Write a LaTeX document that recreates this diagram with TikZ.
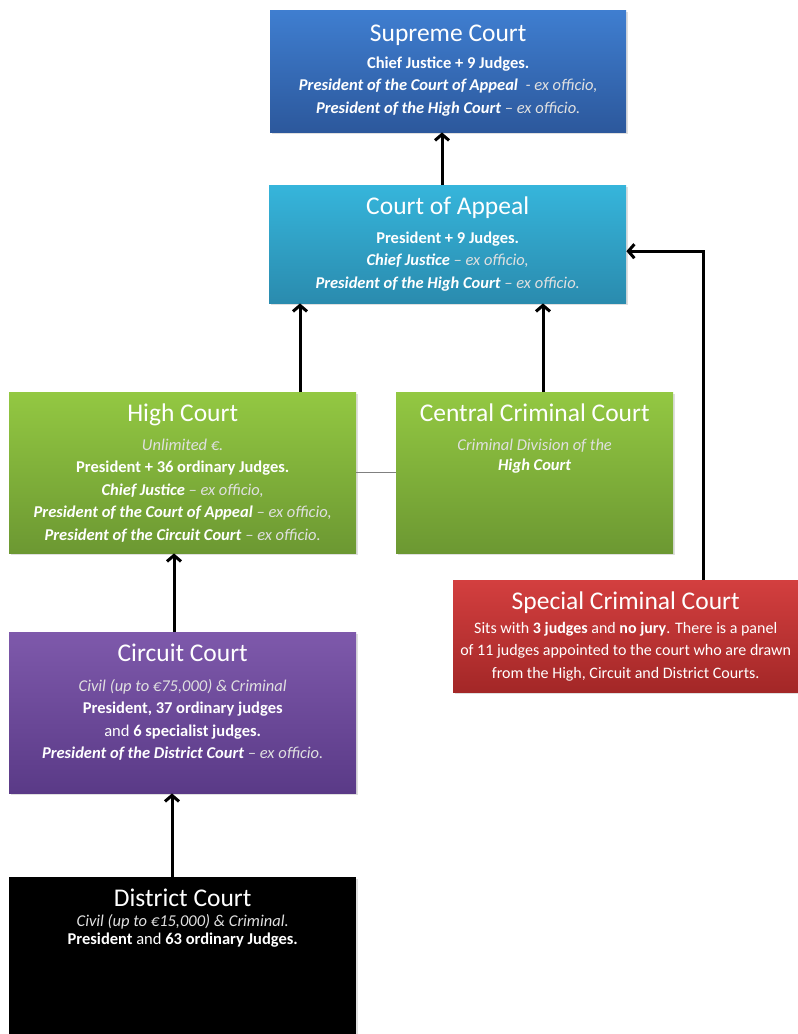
\documentclass[tikz,border=0pt]{standalone}
\usepackage{fontspec}
\setmainfont{Carlito}
\usetikzlibrary{arrows.meta,shadows}

\definecolor{supremetop}{HTML}{3F7ED0}
\definecolor{supremebot}{HTML}{2C589C}
\definecolor{appealtop}{HTML}{36B5DB}
\definecolor{appealbot}{HTML}{2A8BAE}
\definecolor{hightop}{HTML}{93C842}
\definecolor{highbot}{HTML}{6C9832}
\definecolor{specialtop}{HTML}{D33F3F}
\definecolor{specialbot}{HTML}{A32727}
\definecolor{circuittop}{HTML}{7E59AB}
\definecolor{circuitbot}{HTML}{5A3A87}

% text inside a court box
\newcommand{\bodyfont}{\fontsize{16.5}{22.5}\selectfont}
\newcommand{\boxtext}[3]{\parbox[t][#2][t]{#1}{\centering\bodyfont\vspace*{12pt}#3}}
\newcommand{\courtname}[2]{{\fontsize{25.5}{25.5}\selectfont #1}\\[#2]}
\newcommand{\exo}[1]{{\color{white!88!black}\itshape #1}}
\newcommand{\bi}[1]{\textbf{\textit{#1}}}

\begin{document}
\begin{tikzpicture}[x=1pt,y=-1pt,
  court/.style={anchor=north west, inner sep=0pt, text=white,
    drop shadow={opacity=0.25, shadow xshift=1.5pt, shadow yshift=-1.5pt}},
  arr/.style={line width=3pt, -{Straight Barb[length=6pt,width=14pt]}}]
  \useasboundingbox (0,0) rectangle (798,1034);

  \node[court, top color=supremetop, bottom color=supremebot] (supreme) at (270,10)
    {\boxtext{356pt}{122pt}{\vspace*{3pt}\courtname{Supreme Court}{4pt}
      \textbf{Chief Justice + 9 Judges.}\\
      \bi{President of the Court of Appeal} \exo{ - ex officio,}\\
      \bi{President of the High Court} \exo{-- ex officio.}}};

  \node[court, top color=appealtop, bottom color=appealbot] (appeal) at (269,185)
    {\boxtext{357pt}{118pt}{\courtname{Court of Appeal}{6pt}
      \textbf{President + 9 Judges.}\\
      \bi{Chief Justice} \exo{-- ex officio,}\\
      \bi{President of the High Court} \exo{-- ex officio.}}};

  \node[court, top color=hightop, bottom color=highbot] (high) at (9,392)
    {\boxtext{347pt}{161pt}{\courtname{High Court}{6pt}
      \exo{Unlimited €.}\\
      \textbf{President + 36 ordinary Judges.}\\
      \bi{Chief Justice} \exo{-- ex officio,}\\
      \bi{President of the Court of Appeal} \exo{-- ex officio,}\\
      \bi{President of the Circuit Court} \exo{-- ex officio.}}};

  \node[court, top color=hightop, bottom color=highbot] (central) at (396,392)
    {\boxtext{277pt}{161pt}{\courtname{Central Criminal Court}{6pt}
      \exo{Criminal Division of the}\\[-2pt]
      \bi{High Court}}};

  \node[court, top color=specialtop, bottom color=specialbot] (special) at (453,580)
    {\boxtext{345pt}{112pt}{\courtname{Special Criminal Court}{1pt}
      {\fontsize{16}{22.5}\selectfont
      Sits with \textbf{3 judges} and \textbf{no jury}. There is a panel\\
      of 11 judges appointed to the court who are drawn\\
      from the High, Circuit and District Courts.}}};

  \node[court, top color=circuittop, bottom color=circuitbot] (circuit) at (9,632)
    {\boxtext{347pt}{161pt}{\courtname{Circuit Court}{7pt}
      \exo{Civil (up to €75,000) \& Criminal}\\
      \textbf{President, 37 ordinary judges}\\
      and \textbf{6 specialist judges.}\\
      \bi{President of the District Court} \exo{-- ex officio.}}};

  \node[court, fill=black] (district) at (9,877)
    {\boxtext{347pt}{157pt}{\courtname{District Court}{-3pt}
      \exo{Civil (up to €15,000) \& Criminal.}\\[-4pt]
      \textbf{President} and \textbf{63 ordinary Judges.}}};

  % appeals
  \draw[arr] (appeal.north -| 442,0) -- (supreme.south -| 442,0);
  \draw[arr] (high.north -| 300,0) -- (appeal.south -| 300,0);
  \draw[arr] (central.north -| 543,0) -- (appeal.south -| 543,0);
  \draw[arr] (special.north -| 703,0) |- ([yshift=-7pt]appeal.east);
  \draw[arr] (circuit.north -| 174,0) -- (high.south -| 174,0);
  \draw[arr] (district.north -| 172,0) -- (circuit.south -| 172,0);
  \draw[gray, line width=1.2pt] (high.east) -- (central.west);
\end{tikzpicture}
\end{document}
